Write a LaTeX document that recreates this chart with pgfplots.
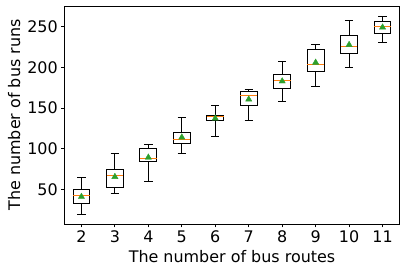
\documentclass[border=0pt]{standalone}
\usepackage{fontspec}
\setmainfont{DejaVu Sans}
\usepackage{pgfplots}
\pgfplotsset{compat=1.18}
\usepgfplotslibrary{statistics}
\definecolor{mplorange}{HTML}{FF7F0E}
\definecolor{mplgreen}{HTML}{2CA02C}
\begin{document}
\begin{tikzpicture}
\begin{axis}[
  scale only axis, width=334.6bp, height=218bp,
  xmin=0.5, xmax=10.5, ymin=7.5, ymax=275.5,
  xtick={1,2,3,4,5,6,7,8,9,10},
  xticklabels={2,3,4,5,6,7,8,9,10,11},
  ytick={50,100,150,200,250},
  tick align=outside, major tick length=3.5bp,
  tick pos=left,
  tick style={line width=0.8bp, black},
  font=\fontsize{16}{19}\selectfont,
  /pgf/number format/assume math mode=true,
  xlabel={The number of bus routes},
  ylabel={The number of bus runs},
  axis line style={line width=0.8bp},
  boxplot/draw direction=y,
  boxplot/box extend=0.5,
  boxplot/whisker extend=0.25,
  boxplot/every median/.style={draw=mplorange, line width=1bp},
]
\addplot[draw=black, line width=1bp, boxplot prepared={lower whisker=19.6, lower quartile=33.2, median=42.6, upper quartile=50, upper whisker=64.8, draw position=1}] coordinates {};
\addplot[draw=black, line width=1bp, boxplot prepared={lower whisker=45, lower quartile=52.5, median=67.2, upper quartile=74.6, upper whisker=94.3, draw position=2}] coordinates {};
\addplot[draw=black, line width=1bp, boxplot prepared={lower whisker=59.8, lower quartile=84.4, median=88.1, upper quartile=100.4, upper whisker=105.3, draw position=3}] coordinates {};
\addplot[draw=black, line width=1bp, boxplot prepared={lower whisker=94.3, lower quartile=106.6, median=111.5, upper quartile=120, upper whisker=138.5, draw position=4}] coordinates {};
\addplot[draw=black, line width=1bp, boxplot prepared={lower whisker=115.2, lower quartile=134.8, median=140, upper quartile=141, upper whisker=153.3, draw position=5}] coordinates {};
\addplot[draw=black, line width=1bp, boxplot prepared={lower whisker=135.2, lower quartile=153.3, median=165.6, upper quartile=170.9, upper whisker=173, draw position=6}] coordinates {};
\addplot[draw=black, line width=1bp, boxplot prepared={lower whisker=158.6, lower quartile=174.2, median=184, upper quartile=191.4, upper whisker=207.4, draw position=7}] coordinates {};
\addplot[draw=black, line width=1bp, boxplot prepared={lower whisker=176.6, lower quartile=195.1, median=204, upper quartile=222.1, upper whisker=228.7, draw position=8}] coordinates {};
\addplot[draw=black, line width=1bp, boxplot prepared={lower whisker=200, lower quartile=217.2, median=226.2, upper quartile=239.7, upper whisker=257.7, draw position=9}] coordinates {};
\addplot[draw=black, line width=1bp, boxplot prepared={lower whisker=230.8, lower quartile=241.8, median=250.8, upper quartile=256.6, upper whisker=263.1, draw position=10}] coordinates {};
\addplot[only marks, mark=triangle*, mark size=3.6bp, color=mplgreen] coordinates {
(1,41) (2,65.5) (3,89.3) (4,114) (5,137.3) (6,160.7) (7,183) (8,206) (9,227.8) (10,249.2)};
\end{axis}
\pgfresetboundingbox
\path[use as bounding box] ([xshift=-64.7bp,yshift=-48bp]current axis.south west) rectangle ([xshift=5.7bp,yshift=6bp]current axis.north east);
\end{tikzpicture}
\end{document}
